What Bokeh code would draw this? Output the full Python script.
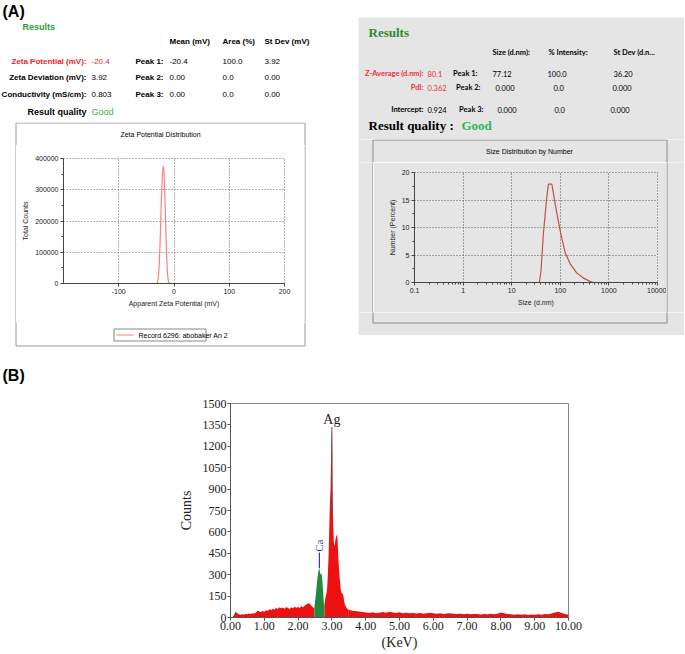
from bokeh.plotting import figure
from bokeh.models import (Label, FixedTicker, NumeralTickFormatter, PrintfTickFormatter,
                          CustomJSTickFormatter, Range1d, Spacer)
from bokeh.layouts import column, row
from bokeh.embed import file_html
from bokeh.resources import INLINE

# ---------------- data ----------------
# Zeta potential distribution
zeta_mv = [-150, -31, -29, -27, -25, -23, -21, -19.5, -18, -16, -14, -12, -10, -8, 150]
zeta_counts = [0, 0, 10000, 50000, 140000, 260000, 350000, 375000, 355000, 250000, 120000, 35000, 5000, 0, 0]
zeta_xticks = [-100, 0, 100, 200]
zeta_yticks = [0, 100000, 200000, 300000, 400000]
zeta_yminor = [50000, 150000, 250000, 350000]

# Size distribution by number
dls_size = [0.4, 1, 10, 37, 40, 45, 52, 57, 67, 78, 100, 126, 160, 217, 300, 410, 480, 1000, 10000]
dls_number = [0, 0, 0, 0, 2, 9, 15, 17.9, 17.9, 14.4, 9.3, 5.4, 3.4, 1.75, 0.8, 0.2, 0, 0, 0]
dls_xticks = [0.1, 1, 10, 100, 1000, 10000]
dls_yticks = [0, 5, 10, 15, 20]
dls_yminor = [2.5, 7.5, 12.5, 17.5]

# EDX spectrum (keV, counts)
edx_e_low = [0.05, 0.10, 0.15, 0.20, 0.25, 0.30, 0.35, 0.40, 0.45, 0.50, 0.55, 0.60, 0.65, 0.70,
             0.75, 0.80, 0.85, 0.90, 0.95, 1.00, 1.05, 1.10, 1.15, 1.20, 1.25, 1.30, 1.35, 1.40,
             1.45, 1.50, 1.55, 1.60, 1.65, 1.70, 1.75, 1.80, 1.85, 1.90, 1.95, 2.00, 2.05, 2.10,
             2.15, 2.20, 2.25, 2.30, 2.35, 2.40, 2.45, 2.48]
edx_c_low = [0, 15, 40, 30, 22, 18, 24, 20, 26, 22, 28, 25, 30, 28,
             35, 48, 42, 38, 45, 40, 50, 46, 58, 52, 62, 55, 68, 60,
             72, 64, 70, 62, 74, 66, 60, 72, 64, 76, 68, 74, 66, 80,
             72, 84, 92, 100, 95, 80, 70, 65]
edx_e_ca = [2.48, 2.50, 2.52, 2.54, 2.56, 2.58, 2.60, 2.62, 2.63, 2.64, 2.66, 2.68, 2.70,
            2.72, 2.74, 2.76, 2.78]
edx_c_ca = [65, 110, 150, 200, 250, 290, 320, 340, 346, 330, 300, 310, 300, 250, 180, 110, 80]
edx_e_ag = [2.78, 2.80, 2.82, 2.84, 2.86, 2.88, 2.90, 2.92, 2.94, 2.96, 2.97, 2.98, 2.99, 3.00,
            3.01, 3.02, 3.04, 3.06, 3.08, 3.10, 3.12, 3.14, 3.16, 3.18, 3.20, 3.22, 3.24, 3.26,
            3.28, 3.30, 3.32, 3.34, 3.36, 3.38, 3.40, 3.43, 3.46, 3.50]
edx_c_ag = [80, 130, 150, 170, 210, 300, 420, 600, 800, 900, 1050, 1220, 1280, 1320,
            1150, 900, 640, 520, 500, 540, 560, 580, 570, 480, 380, 310, 250, 200,
            175, 170, 165, 150, 120, 95, 80, 70, 60, 55]
edx_e_tail = [3.5, 3.6, 3.7, 3.8, 3.9, 4.0, 4.1, 4.2, 4.3, 4.4, 4.5, 4.6, 4.7, 4.8, 4.9, 5.0,
              5.1, 5.2, 5.3, 5.4, 5.5, 5.6, 5.7, 5.8, 5.9, 6.0, 6.1, 6.2, 6.3, 6.4, 6.5, 6.6,
              6.7, 6.8, 6.9, 7.0, 7.1, 7.2, 7.3, 7.4, 7.5, 7.6, 7.7, 7.8, 7.9, 8.0, 8.1, 8.2,
              8.3, 8.4, 8.5, 8.6, 8.7, 8.8, 8.9, 9.0, 9.1, 9.2, 9.3, 9.4, 9.5, 9.6, 9.7, 9.8,
              9.9, 10.0]
edx_c_tail = [55, 48, 45, 42, 38, 35, 32, 36, 30, 34,
              38, 33, 40, 35, 31, 36, 30, 33, 29, 32,
              28, 31, 27, 30, 34, 30, 26, 29, 25, 28,
              30, 26, 24, 27, 23, 26, 22, 25, 24, 21,
              25, 22, 26, 23, 27, 35, 30, 24, 22, 20,
              23, 19, 22, 18, 21, 20, 23, 19, 25, 22,
              28, 35, 40, 32, 25, 20]
edx_xticks = [0, 1, 2, 3, 4, 5, 6, 7, 8, 9, 10]
edx_yticks = [0, 150, 300, 450, 600, 750, 900, 1050, 1200, 1350, 1500]

NARROW = "Liberation Sans Narrow, Liberation Sans"
SANS = "Lato"
SERIF = "Liberation Serif"
GRAY = "#e5e5e5"
ZBOX = "#9a9a9a"
DBOX = "#8c8c8c"


def canvas(x0, y0, w, h, bg="white"):
    p = figure(width=w, height=h, x_range=Range1d(x0, x0 + w), y_range=Range1d(y0 + h, y0),
               min_border=0, toolbar_location=None, output_backend="svg",
               x_axis_location=None, y_axis_location=None)
    p.background_fill_color = bg
    p.border_fill_color = bg
    p.outline_line_color = None
    p.grid.visible = False
    return p


def edges(p, xs_list, ys_list, color):
    p.multi_line(xs=xs_list, ys=ys_list, line_color=color, line_width=1)


def put(p, x, y, text, size="8px", color="black", font=NARROW, style="normal",
        align="left", baseline="middle"):
    p.add_layout(Label(x=x, y=y, text=text, text_font_size=size, text_color=color,
                       text_font=font, text_font_style=style, text_align=align,
                       text_baseline=baseline))


def style_axes(p, font, size, color="#444"):
    for ax in (p.xaxis, p.yaxis):
        ax.axis_line_color = color
        ax.major_tick_line_color = color
        ax.minor_tick_line_color = color
        ax.major_tick_in = 0
        ax.major_tick_out = 3
        ax.minor_tick_in = 0
        ax.minor_tick_out = 2
        ax.major_label_text_font = font
        ax.major_label_text_font_size = size
        ax.major_label_text_color = "#222"
        ax.major_label_standoff = 2
        ax.axis_label_text_font = font
        ax.axis_label_text_font_size = size
        ax.axis_label_text_font_style = "normal"
        ax.axis_label_text_color = "#222"
        ax.axis_label_standoff = 3


# ================= panel A, left (zeta potential) =================
a_text = canvas(0, 0, 355, 122)
put(a_text, 2, 2, "(A)", size="16px", font="Liberation Sans", style="bold", baseline="top")
put(a_text, 22, 26, "Results", size="9px", color="#2e9a2e", style="bold")
for x, t in [(169, "Mean (mV)"), (222, "Area (%)"), (264, "St Dev (mV)")]:
    put(a_text, x, 41, t, style="bold")
rows_left = [("Zeta Potential (mV):", "-20.4", "#e8262c"),
             ("Zeta Deviation (mV):", "3.92", "black"),
             ("Conductivity (mS/cm):", "0.803", "black")]
ys = [61, 77, 94]
for (lab, val, col), y in zip(rows_left, ys):
    put(a_text, 86, y, lab, color=col, style="bold", align="right")
    put(a_text, 91, y, val, color=col)
put(a_text, 86, 111, "Result quality", size="9px", style="bold", align="right")
put(a_text, 91, 111, "Good", size="9px", color="#3cb043")
peak_rows = [("Peak 1:", "-20.4", "100.0", "3.92"),
             ("Peak 2:", "0.00", "0.0", "0.00"),
             ("Peak 3:", "0.00", "0.0", "0.00")]
for (pk, a, b, c), y in zip(peak_rows, ys):
    put(a_text, 163, y, pk, style="bold", align="right")
    put(a_text, 169, y, a)
    put(a_text, 222, y, b)
    put(a_text, 264, y, c)

# box: x 15.5 .. 304.5, y 122.5 .. 345.5
z_top = canvas(0, 122, 355, 23)
edges(z_top, [[15.5, 15.5, 304.5, 304.5]], [[146, 122.5, 122.5, 146]], ZBOX)
put(z_top, 160, 134, "Zeta Potential Distribution", size="7px", align="center")

z_left = canvas(0, 145, 16, 177)
edges(z_left, [[15.5, 15.5]], [[144, 323]], ZBOX)
z_right = canvas(304, 145, 51, 177)
edges(z_right, [[304.5, 304.5]], [[144, 323]], ZBOX)

zc = figure(width=288, height=177, x_range=Range1d(-200, 200), y_range=Range1d(0, 400000),
            output_backend="svg", toolbar_location=None, min_border_left=47,
            min_border_right=20, min_border_top=13, min_border_bottom=39)
zc.background_fill_color = "white"
zc.border_fill_color = "white"
zc.line(zeta_mv, zeta_counts, line_color="#ff7f7f", line_width=1.2)
zc.xaxis.ticker = FixedTicker(ticks=zeta_xticks)
zc.xaxis.formatter = NumeralTickFormatter(format="0")
zc.yaxis.ticker = FixedTicker(ticks=zeta_yticks, minor_ticks=zeta_yminor)
zc.yaxis.formatter = NumeralTickFormatter(format="0")
zc.xaxis.axis_label = "Apparent Zeta Potential (mV)"
zc.yaxis.axis_label = "Total Counts"
style_axes(zc, NARROW, "7px")
zc.grid.grid_line_dash = "1 2"
zc.grid.grid_line_color = "#666"
zc.outline_line_color = "#666"
zc.outline_line_dash = "1 2"

z_bot = canvas(0, 322, 355, 28)
edges(z_bot, [[15.5, 15.5, 304.5, 304.5]], [[321, 345.5, 345.5, 321]], ZBOX)
z_bot.quad(left=[113.5], right=[205.5], top=[328.5], bottom=[340.5], fill_color="white",
           line_color="#888", line_width=1)
z_bot.line([116, 133], [334.5, 334.5], line_color="#ff7f7f", line_width=1.2)
put(z_bot, 138, 334.5, "Record 6296: abobaker An 2", size="7px")

left_col = column(a_text, z_top, row(z_left, row(zc), z_right), z_bot)

# ================= panel A, right (size distribution) =================
r_text = canvas(358, 17, 326, 122, bg=GRAY)
put(r_text, 368, 32, "Results", size="13px", color="#2e8b2e", font=SERIF, style="bold")
for x, t in [(492, "Size (d.nm):"), (548, "% Intensity:"), (613, "St Dev (d.n...")]:
    put(r_text, x, 52, t, size="7.5px", font=SANS, style="bold")
RED = "#e8323c"
put(r_text, 423, 73, "Z-Average (d.nm):", size="7.5px", color=RED, font=SANS, style="bold", align="right")
put(r_text, 427, 73, "80.1", size="7.5px", color=RED, font=SANS)
put(r_text, 423, 87, "PdI:", size="7.5px", color=RED, font=SANS, style="bold", align="right")
put(r_text, 427, 87, "0.362", size="7.5px", color=RED, font=SANS)
put(r_text, 423, 109, "Intercept:", size="7.5px", font=SANS, style="bold", align="right")
put(r_text, 427, 109, "0.924", size="7.5px", font=SANS)
dls_rows = [("Peak 1:", 477, 73, ["77.12", "100.0", "36.20"], [492, 547, 613]),
            ("Peak 2:", 480, 87, ["0.000", "0.0", "0.000"], [495, 553, 612]),
            ("Peak 3:", 483, 109, ["0.000", "0.0", "0.000"], [497, 554, 610])]
for pk, px, y, vals, xs in dls_rows:
    put(r_text, px, y, pk, size="7.5px", font=SANS, style="bold", align="right")
    for v, x in zip(vals, xs):
        put(r_text, x, y, v, size="7.5px", font=SANS)
put(r_text, 368, 125, "Result quality :", size="13px", font=SERIF, style="bold")
put(r_text, 461, 125, "Good", size="13px", color="#2fb560", font=SERIF, style="bold")

# box: x 372.5 .. 666.5, y 139.5 .. 322.5
d_top = canvas(358, 139, 326, 23, bg=GRAY)
edges(d_top, [[372.5, 372.5, 666.5, 666.5]], [[163, 139.5, 139.5, 163]], DBOX)
put(d_top, 529, 151, "Size Distribution by Number", size="7px", font="Liberation Sans",
    align="center")

d_left = canvas(358, 162, 15, 150, bg=GRAY)
edges(d_left, [[372.5, 372.5]], [[161, 313]], DBOX)
d_right = canvas(666, 162, 18, 150, bg=GRAY)
edges(d_right, [[666.5, 666.5]], [[161, 313]], DBOX)

dc = figure(width=293, height=150, x_axis_type="log", x_range=Range1d(0.1, 10000),
            y_range=Range1d(0, 20), output_backend="svg", toolbar_location=None,
            min_border_left=41, min_border_right=9, min_border_top=10, min_border_bottom=30)
dc.background_fill_color = GRAY
dc.border_fill_color = GRAY
dc.line(dls_size, dls_number, line_color="#c0504d", line_width=1.2)
dls_minor = [m * 10.0 ** e for e in range(-1, 4) for m in range(2, 10)]
dc.xaxis.ticker = FixedTicker(ticks=dls_xticks, minor_ticks=dls_minor)
dc.xaxis.formatter = CustomJSTickFormatter(code="return String(tick)")
dc.yaxis.ticker = FixedTicker(ticks=dls_yticks, minor_ticks=dls_yminor)
dc.xaxis.axis_label = "Size (d.nm)"
dc.yaxis.axis_label = "Number (Percent)"
style_axes(dc, "Liberation Sans", "7px")
dc.grid.grid_line_dash = "1 2"
dc.grid.grid_line_color = "#555"
dc.outline_line_color = "#555"
dc.outline_line_dash = "1 2"

d_bot = canvas(358, 312, 326, 23, bg=GRAY)
edges(d_bot, [[372.5, 372.5, 666.5, 666.5]], [[311, 322.5, 322.5, 311]], DBOX)

gray_panel = column(r_text, d_top, row(d_left, row(dc), d_right), d_bot)
right_col = column(Spacer(width=329, height=17),
                   row(Spacer(width=3, height=318), gray_panel),
                   Spacer(width=329, height=15))

# ================= panel B (EDX) =================
b_text = canvas(0, 350, 684, 40)
put(b_text, 2, 375, "(B)", size="16px", font="Liberation Sans", style="bold")

ec = figure(width=684, height=262, x_range=Range1d(0, 10), y_range=Range1d(0, 1500),
            output_backend="svg", toolbar_location=None, min_border_left=230,
            min_border_right=116, min_border_top=13, min_border_bottom=34)
ec.background_fill_color = "white"
ec.border_fill_color = "white"
RED_E = "#ee1111"
GREEN_E = "#1f8a3c"
ec.varea(x=edx_e_low, y1=0, y2=edx_c_low, fill_color=RED_E)
ec.varea(x=edx_e_ca, y1=0, y2=edx_c_ca, fill_color=GREEN_E)
ec.varea(x=edx_e_ag, y1=0, y2=edx_c_ag, fill_color=RED_E)
ec.varea(x=edx_e_tail, y1=0, y2=edx_c_tail, fill_color=RED_E)

i_ag = edx_c_ag.index(max(edx_c_ag))
ag_e, ag_c = edx_e_ag[i_ag], edx_c_ag[i_ag]
ec.segment(x0=[ag_e], y0=[ag_c * 0.55], x1=[ag_e], y1=[ag_c + 15], line_color="#555", line_width=1)
ec.add_layout(Label(x=ag_e, y=ag_c + 18, text="Ag", text_font=SERIF, text_font_size="14px",
                    text_align="center", text_baseline="bottom", text_color="#222"))
i_ca = edx_c_ca.index(max(edx_c_ca))
ca_e, ca_c = edx_e_ca[i_ca], edx_c_ca[i_ca]
ec.segment(x0=[ca_e], y0=[ca_c], x1=[ca_e], y1=[ca_c + 110], line_color="#3a3aa8", line_width=1.2)
ec.add_layout(Label(x=ca_e, y=ca_c + 115, text="Ca", text_font=SERIF, text_font_size="11px",
                    text_align="left", text_baseline="middle", text_color="#3a3aa8",
                    angle=1.5708))

ec.xaxis.ticker = FixedTicker(ticks=edx_xticks)
ec.xaxis.formatter = PrintfTickFormatter(format="%.2f")
ec.yaxis.ticker = FixedTicker(ticks=edx_yticks)
ec.xaxis.axis_label = "(KeV)"
ec.yaxis.axis_label = "Counts"
style_axes(ec, SERIF, "12px", color="#555")
for ax in (ec.xaxis, ec.yaxis):
    ax.major_tick_out = 3
    ax.major_label_standoff = 1
    ax.axis_label_text_font_size = "14px"
    ax.axis_label_standoff = 2
ec.yaxis.axis_label_standoff = 6
ec.grid.visible = False
ec.outline_line_color = "#888"

layout = column(row(left_col, right_col), column(b_text, row(ec)))
open("out.html", "w").write(file_html(layout, INLINE))
